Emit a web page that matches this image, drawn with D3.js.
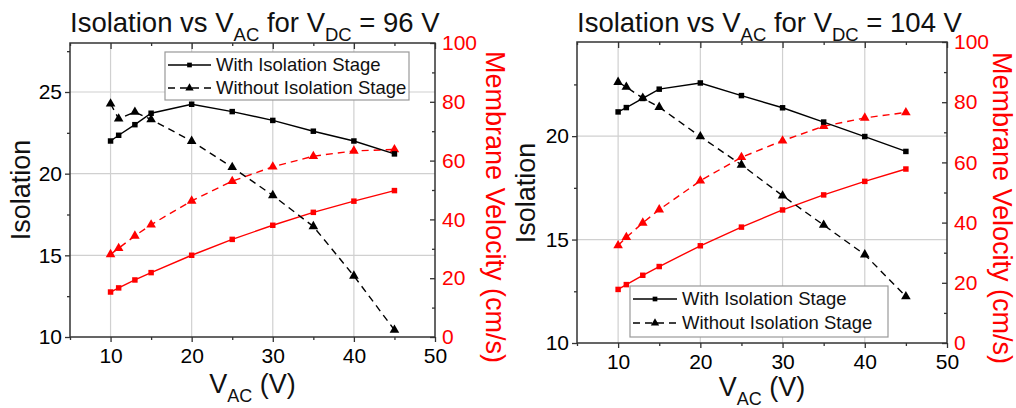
<!DOCTYPE html>
<html>
<head>
<meta charset="utf-8">
<script src="https://cdn.jsdelivr.net/npm/d3@7"></script>
<style>
  html, body { margin: 0; padding: 0; background: #fff; }
  svg { display: block; font-family: "Liberation Sans", Arial, sans-serif; }
</style>
</head>
<body>
<svg id="chart" width="1016" height="408"></svg>
<script>
// ---------- data ----------
const vac = [10, 11, 13, 15, 20, 25, 30, 35, 40, 45];

// V_DC = 96 V
const iso96With    = [22.0, 22.35, 23.0, 23.7, 24.25, 23.8, 23.26, 22.6, 22.0, 21.21];
const iso96Without = [24.28, 23.36, 23.77, 23.32, 21.99, 20.39, 18.67, 16.77, 13.74, 10.43];
const vel96With    = [15.3, 16.7, 19.4, 21.9, 27.8, 33.2, 38.0, 42.4, 46.2, 49.8];
const vel96Without = [28.1, 30.2, 34.4, 38.2, 46.3, 53.0, 57.9, 61.5, 63.3, 63.8];

// V_DC = 104 V
const iso104With    = [21.17, 21.38, 21.82, 22.27, 22.57, 21.96, 21.37, 20.68, 19.98, 19.26];
const iso104Without = [22.61, 22.37, 21.84, 21.40, 19.98, 18.61, 17.12, 15.70, 14.27, 12.25];
const vel104With    = [17.8, 19.4, 22.5, 25.4, 32.3, 38.5, 44.2, 49.2, 53.7, 57.8];
const vel104Without = [32.4, 35.1, 39.9, 44.3, 53.9, 61.7, 67.2, 72.0, 74.8, 76.6];

const xTicks = [10, 20, 30, 40, 50];
const xMinorTicks = [5, 15, 25, 35, 45];
const velTicks = [0, 20, 40, 60, 80, 100];
const velMinorTicks = [10, 30, 50, 70, 90];
const iso96Ticks = [10, 15, 20, 25];
const iso96MinorTicks = [12.5, 17.5, 22.5, 27.5];
const iso104Ticks = [10, 15, 20];
const iso104MinorTicks = [12.5, 17.5, 22.5];

const legendLabels = ["With Isolation Stage", "Without Isolation Stage"];
const titles = ["96 V", "104 V"];

// ---------- drawing ----------
const svg = d3.select("#chart");
const FONT_TICK = 21;
const FONT_LABEL = 27;
const FONT_TITLE = 27.5;
const RED = "#ff0000";

function drawChart(cfg) {
  const { left, right, top, bottom } = cfg.plot;
  const x = d3.scaleLinear().domain([5, 50]).range([left, right]);
  const yL = d3.scaleLinear().domain(cfg.isoDomain).range([bottom, top]);
  const yR = d3.scaleLinear().domain([0, 100]).range([bottom, top]);
  const g = svg.append("g");

  // grid
  g.append("g").selectAll("line.vg").data(xTicks.filter(d => d > 5 && d < 50)).join("line")
    .attr("x1", d => x(d)).attr("x2", d => x(d)).attr("y1", top).attr("y2", bottom)
    .attr("stroke", "#d0d0d0").attr("stroke-width", 1.2);
  g.append("g").selectAll("line.hg").data(cfg.isoTicks.filter(d => d > cfg.isoDomain[0])).join("line")
    .attr("x1", left).attr("x2", right).attr("y1", d => yL(d)).attr("y2", d => yL(d))
    .attr("stroke", "#d0d0d0").attr("stroke-width", 1.2);

  // axes
  const axisStyle = sel => {
    sel.select(".domain").remove();
    sel.selectAll(".tick line").attr("stroke", "#333").attr("stroke-width", 1.3);
    sel.selectAll("text").attr("font-size", FONT_TICK).attr("font-family", "Liberation Sans, Arial, sans-serif");
  };
  // bottom
  g.append("g").attr("transform", `translate(0,${bottom})`)
    .call(d3.axisBottom(x).tickValues(xTicks).tickFormat(d3.format("d")).tickSize(5).tickPadding(6))
    .call(axisStyle).call(s => s.selectAll("text").attr("fill", "#000"));
  g.append("g").attr("transform", `translate(0,${bottom})`)
    .call(d3.axisBottom(x).tickValues(xMinorTicks).tickFormat("").tickSize(3)).call(axisStyle);
  // top (inward)
  g.append("g").attr("transform", `translate(0,${top})`)
    .call(d3.axisTop(x).tickValues(xTicks).tickFormat("").tickSize(-6)).call(axisStyle);
  g.append("g").attr("transform", `translate(0,${top})`)
    .call(d3.axisTop(x).tickValues(xMinorTicks).tickFormat("").tickSize(-3)).call(axisStyle);
  // left
  g.append("g").attr("transform", `translate(${left},0)`)
    .call(d3.axisLeft(yL).tickValues(cfg.isoTicks).tickFormat(d3.format("d")).tickSize(5).tickPadding(3))
    .call(axisStyle).call(s => s.selectAll("text").attr("fill", "#000"));
  g.append("g").attr("transform", `translate(${left},0)`)
    .call(d3.axisLeft(yL).tickValues(cfg.isoMinorTicks).tickFormat("").tickSize(3)).call(axisStyle);
  // right (inward ticks, red labels)
  g.append("g").attr("transform", `translate(${right},0)`)
    .call(d3.axisRight(yR).tickValues(velTicks).tickFormat(d3.format("d")).tickSize(-5).tickPadding(7))
    .call(axisStyle).call(s => s.selectAll("text").attr("fill", RED));
  g.append("g").attr("transform", `translate(${right},0)`)
    .call(d3.axisRight(yR).tickValues(velMinorTicks).tickFormat("").tickSize(-3)).call(axisStyle);

  // frame
  g.append("rect").attr("x", left).attr("y", top).attr("width", right - left).attr("height", bottom - top)
    .attr("fill", "none").attr("stroke", "#333").attr("stroke-width", 1.5);

  // series
  const series = [
    { vals: cfg.velWith, y: yR, color: RED, dash: null, marker: "square" },
    { vals: cfg.velWithout, y: yR, color: RED, dash: "7,5", marker: "triangle" },
    { vals: cfg.isoWithout, y: yL, color: "#000", dash: "7,5", marker: "triangle" },
    { vals: cfg.isoWith, y: yL, color: "#000", dash: null, marker: "square" },
  ];
  const sqSym = d3.symbol().type(d3.symbolSquare).size(30);
  const triSym = d3.symbol().type(d3.symbolTriangle).size(40);
  series.forEach(s => {
    const pts = vac.map((v, i) => [x(v), s.y(s.vals[i])]);
    g.append("path").attr("d", d3.line()(pts)).attr("fill", "none")
      .attr("stroke", s.color).attr("stroke-width", 1.4)
      .attr("stroke-dasharray", s.dash);
    g.append("g").selectAll("path").data(pts).join("path")
      .attr("transform", d => `translate(${d[0]},${d[1]})`)
      .attr("d", s.marker === "square" ? sqSym() : triSym())
      .attr("fill", s.color);
  });

  // legend
  const L = cfg.legend;
  const lg = g.append("g");
  lg.append("rect").attr("x", L.x).attr("y", L.y).attr("width", L.w).attr("height", L.h)
    .attr("fill", "#fff").attr("stroke", "#999").attr("stroke-width", 1.2);
  legendLabels.forEach((lab, i) => {
    const cy = L.y + L.rowOff + i * L.rowGap;
    lg.append("line").attr("x1", L.x + 3).attr("x2", L.x + 3 + L.lineLen).attr("y1", cy).attr("y2", cy)
      .attr("stroke", "#000").attr("stroke-width", 1.4).attr("stroke-dasharray", i === 0 ? null : "7,5");
    lg.append("path").attr("transform", `translate(${L.x + 3 + L.lineLen / 2},${cy})`)
      .attr("d", i === 0 ? d3.symbol().type(d3.symbolSquare).size(22)() : d3.symbol().type(d3.symbolTriangle).size(30)())
      .attr("fill", "#000");
    lg.append("text").attr("x", L.x + L.lineLen + 8).attr("y", cy).attr("dy", "0.35em")
      .attr("font-size", 18.5).attr("fill", "#111").text(lab);
  });

  // title
  const t = g.append("text").attr("x", left).attr("y", 31.5).attr("font-size", FONT_TITLE).attr("fill", "#111");
  t.append("tspan").text("Isolation vs V");
  t.append("tspan").attr("font-size", 18.5).attr("dy", 9).text("AC");
  t.append("tspan").attr("dy", -9).text(" for V");
  t.append("tspan").attr("font-size", 18.5).attr("dy", 9).text("DC");
  t.append("tspan").attr("dy", -9).text(" = " + cfg.title);

  // x label
  const xl = g.append("text").attr("x", (left + right) / 2).attr("y", bottom + cfg.xLabelOff)
    .attr("text-anchor", "middle").attr("font-size", FONT_LABEL).attr("fill", "#111");
  xl.append("tspan").text("V");
  xl.append("tspan").attr("font-size", 18).attr("dy", 8.5).text("AC");
  xl.append("tspan").attr("dy", -8.5).text(" (V)");

  // y labels
  g.append("text").attr("transform", `translate(${cfg.yLabelX},${cfg.yLabelY}) rotate(-90)`)
    .attr("text-anchor", "middle").attr("font-size", FONT_LABEL).attr("fill", "#111").text("Isolation");
  g.append("text").attr("transform", `translate(${cfg.rLabelX},${cfg.rLabelY}) rotate(90)`)
    .attr("text-anchor", "middle").attr("font-size", FONT_LABEL).attr("fill", RED).text("Membrane Velocity (cm/s)");
}

drawChart({
  plot: { left: 70, right: 435, top: 43, bottom: 337 },
  isoDomain: [10, 28], isoTicks: iso96Ticks, isoMinorTicks: iso96MinorTicks,
  isoWith: iso96With, isoWithout: iso96Without, velWith: vel96With, velWithout: vel96Without,
  legend: { x: 165, y: 52, w: 244, h: 48, rowOff: 13, rowGap: 23, lineLen: 43 },
  title: titles[0], xLabelOff: 56,
  yLabelX: 30, yLabelY: 190, rLabelX: 486, rLabelY: 207,
});

drawChart({
  plot: { left: 577, right: 947, top: 42, bottom: 343 },
  isoDomain: [10, 24.55], isoTicks: iso104Ticks, isoMinorTicks: iso104MinorTicks,
  isoWith: iso104With, isoWithout: iso104Without, velWith: vel104With, velWithout: vel104Without,
  legend: { x: 630, y: 286, w: 258, h: 51, rowOff: 13, rowGap: 24, lineLen: 44 },
  title: titles[1], xLabelOff: 53,
  yLabelX: 535, yLabelY: 193, rLabelX: 993, rLabelY: 208,
});
</script>
</body>
</html>
